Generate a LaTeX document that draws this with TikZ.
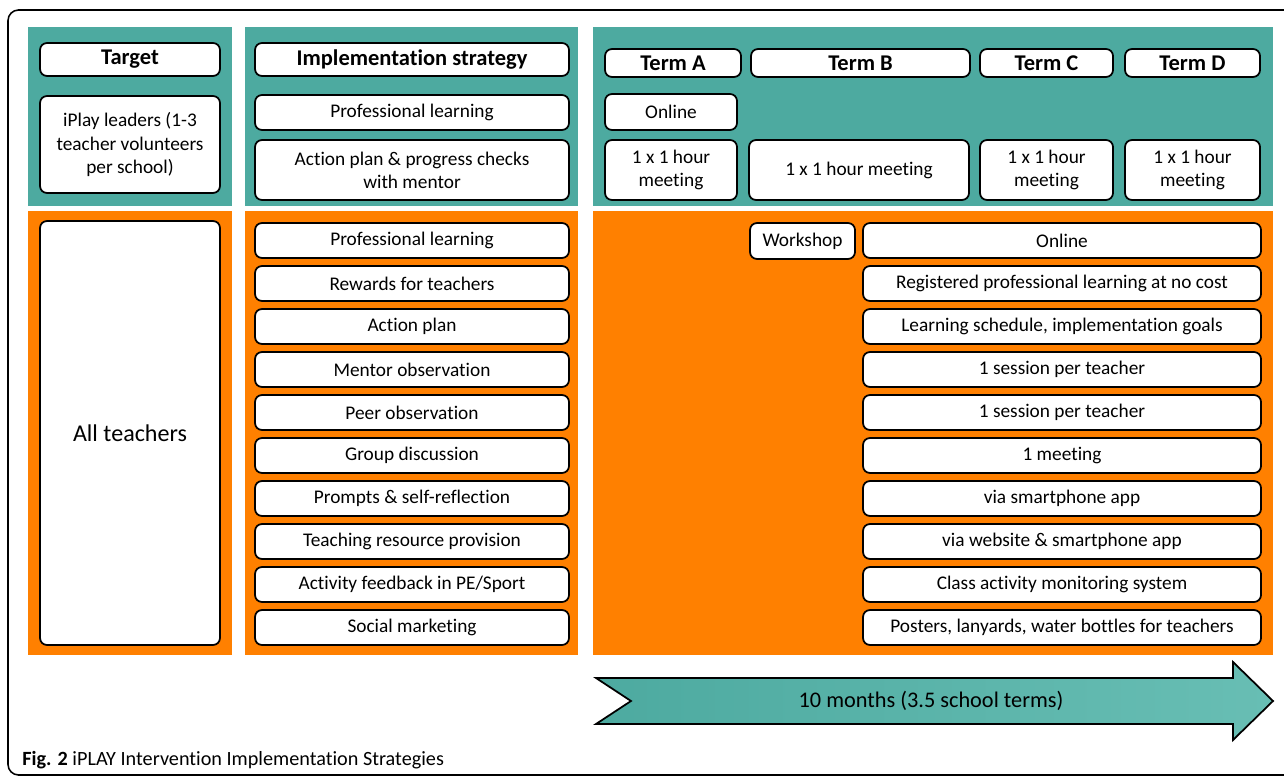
\documentclass[tikz,border=0pt]{standalone}
\usepackage{fontspec}
\setmainfont[Ligatures=NoCommon]{Carlito}
\usepackage{tikz}
\usetikzlibrary{positioning}

\definecolor{iteal}{RGB}{77,170,160}
\definecolor{ilight}{RGB}{104,190,180}
\definecolor{iorange}{RGB}{255,128,0}

\tikzset{
  box/.style={draw, line width=1pt, rounded corners=4pt, fill=white,
    align=center, inner sep=1pt, font=\fontsize{11}{13.2}\selectfont},
  headbox/.style={box, font=\fontsize{12.8}{14}\selectfont\bfseries}
}

\begin{document}
\begin{tikzpicture}[x=0.02cm, y=-0.02cm]
  \useasboundingbox (0,0) rectangle (1284,780);

  % Frame
  \draw[line width=0.9pt, rounded corners=6pt] (1284,10) -- (8,10) -- (8,775) -- (1284,775);

  % Panels
  \foreach \a/\b in {28/232, 245/578, 593/1273} {
    \fill[iteal] (\a,27) rectangle (\b,206);
    \fill[iorange] (\a,211) rectangle (\b,655);
  }

  % Target column
  \node[headbox, minimum width=180*0.02cm, minimum height=33*0.02cm] (target) at (130,59.5) {Target};
  \node[box, minimum width=180*0.02cm, minimum height=97*0.02cm] (leaders) at (130,144.5)
    {iPlay leaders (1-3\\teacher volunteers\\per school)};
  \node[box, minimum width=180*0.02cm, minimum height=424*0.02cm,
    font=\fontsize{13.7}{16}\selectfont] (all) at (130,433) {All teachers};

  % Strategy column
  \node[headbox, minimum width=314*0.02cm, minimum height=33*0.02cm] (strategy) at (412,59.5) {Implementation strategy};
  \node[box, minimum width=314*0.02cm, minimum height=35*0.02cm] (lprof) at (412,112.5) {Professional learning};
  \node[box, minimum width=314*0.02cm, minimum height=60*0.02cm] (lplan) at (412,170)
    {Action plan \& progress checks\\with mentor};

  \foreach \t [count=\i from 0] in {Professional learning, Rewards for teachers,
      Action plan, Mentor observation, Peer observation, Group discussion,
      Prompts \& self-reflection, Teaching resource provision,
      Activity feedback in PE/Sport, Social marketing}
    \node[box, minimum width=314*0.02cm, minimum height=35*0.02cm] (s\i) at (412,240.5+43*\i) {\t};

  % Terms
  \node[headbox, minimum width=136*0.02cm, minimum height=28*0.02cm] (termA) at (673,63) {Term A};
  \node[headbox, minimum width=219*0.02cm, minimum height=28*0.02cm] (termB) at (860.5,63) {Term B};
  \node[headbox, minimum width=133*0.02cm, minimum height=28*0.02cm] (termC) at (1046.5,63) {Term C};
  \node[headbox, minimum width=135*0.02cm, minimum height=28*0.02cm] (termD) at (1192.5,63) {Term D};

  \node[box, minimum width=132*0.02cm, minimum height=36*0.02cm] (online) at (671,112) {Online};
  \node[box, minimum width=132*0.02cm, minimum height=60*0.02cm] (meetA) at (671,170) {1 x 1 hour\\meeting};
  \node[box, minimum width=220*0.02cm, minimum height=60*0.02cm] (meetB) at (859,170) {1 x 1 hour meeting};
  \node[box, minimum width=133*0.02cm, minimum height=60*0.02cm] (meetC) at (1046.5,170) {1 x 1 hour\\meeting};
  \node[box, minimum width=135*0.02cm, minimum height=60*0.02cm] (meetD) at (1192.5,170) {1 x 1 hour\\meeting};

  % Delivery
  \node[box, minimum width=105*0.02cm, minimum height=36*0.02cm] (workshop) at (802.5,241) {Workshop};
  \foreach \t [count=\i from 0] in {Online, Registered professional learning at no cost,
      {Learning schedule, implementation goals}, 1 session per teacher,
      1 session per teacher, 1 meeting, via smartphone app,
      via website \& smartphone app, Class activity monitoring system,
      {Posters, lanyards, water bottles for teachers}}
    \node[box, minimum width=398*0.02cm, minimum height=35*0.02cm] (d\i) at (1062,240.5+43*\i) {\t};

  % Timeline arrow
  \draw[line width=1pt, left color=iteal, right color=ilight]
    (596,678) -- (1233,678) -- (1233,662) -- (1273,701) -- (1233,740)
    -- (1233,724) -- (596,724) -- (631,701) -- cycle;
  \node[font=\fontsize{12.7}{14}\selectfont] (months) at (931,701) {10 months (3.5 school terms)};

  % Caption
  \node[anchor=west, inner sep=0pt, font=\fontsize{11.5}{13}\selectfont] (caption) at (22,760)
    {\textbf{Fig. 2} iPLAY Intervention Implementation Strategies};
\end{tikzpicture}
\end{document}
